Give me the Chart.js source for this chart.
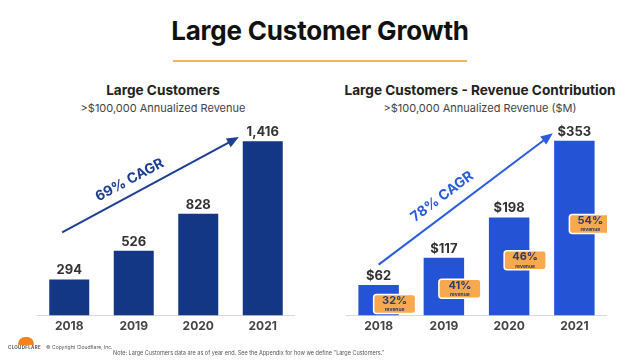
<!DOCTYPE html>
<html>
<head>
<meta charset="utf-8">
<script src="https://cdn.jsdelivr.net/npm/chart.js@4.4.1/dist/chart.umd.min.js"></script>
<style>
  body { margin: 0; width: 640px; height: 362px; background: #fff; font-family: Inter, "Noto Sans", sans-serif; position: relative; overflow: hidden; }
  .abs { position: absolute; white-space: nowrap; }
  #title { left: 0; width: 640px; top: 15px; text-align: center; font-size: 26px; font-weight: 700; color: #111; letter-spacing: -0.2px; }
  #rule { left: 173px; width: 294px; top: 60px; height: 2px; background: #f9b35a; }
  .ctitle { font-size: 13.6px; font-weight: 700; color: #222; text-align: center; }
  .csub { font-size: 11px; color: #444; text-align: center; }
  canvas { position: absolute; }
  #logo { left: 8px; top: 336px; width: 34px; height: 16px; }
  #cloud { position: absolute; left: 10px; top: 1px; width: 16px; height: 8px; background: #f6821f; border-radius: 8px 8px 1px 1px; }
  #logoText { position: absolute; left: 0; top: 9px; font-size: 4.5px; font-weight: 700; color: #555; letter-spacing: 0.3px; }
  #copy { left: 46px; top: 344px; font-size: 5px; color: #555; }
  #note { left: 113px; top: 350px; font-size: 5.5px; color: #555; }
</style>
</head>
<body>
<div class="abs" id="title">Large Customer Growth</div>
<div class="abs" id="rule"></div>

<div class="abs ctitle" style="left:63px;width:200px;top:82px">Large Customers</div>
<div class="abs csub" style="left:63px;width:200px;top:101px">&gt;$100,000 Annualized Revenue</div>
<div class="abs ctitle" style="left:330px;width:300px;top:82px">Large Customers - Revenue Contribution</div>
<div class="abs csub" style="left:330px;width:300px;top:101px">&gt;$100,000 Annualized Revenue ($M)</div>

<canvas id="c1" width="258" height="228" style="left:37px;top:110px"></canvas>
<canvas id="c2" width="261" height="228" style="left:346px;top:110px"></canvas>

<div class="abs" id="logo"><div id="cloud"></div><div id="logoText">CLOUDFLARE</div></div>
<div class="abs" id="copy">© Copyright Cloudflare, Inc.</div>
<div class="abs" id="note">Note: Large Customers data are as of year end. See the Appendix for how we define "Large Customers."</div>

<script>
const years = ['2018', '2019', '2020', '2021'];
const customers = [294, 526, 828, 1416];
const revenue = [62, 117, 198, 353];
const revenueShare = [32, 41, 46, 54];
const customersCagr = '69% CAGR';
const revenueCagr = '78% CAGR';

// arrow ends and badge anchors, in axis units
const customersArrow = { from: [-0.11, 677], to: [2.63, 1450] };
const revenueArrow = { from: [0, 103], to: [2.67, 368] };
const badgeLevel = [23.5, 54, 112, 185];

const fmtCount = v => v.toLocaleString('en-US');
const fmtMoney = v => '$' + v;

const decoPlugin = {
  id: 'deco',
  afterDatasetsDraw(chart, args, opts) {
    const { ctx, scales: { x, y } } = chart;
    const meta = chart.getDatasetMeta(0);
    ctx.save();

    // value labels
    ctx.font = '700 13px Inter';
    ctx.fillStyle = '#333';
    ctx.textAlign = 'center';
    ctx.textBaseline = 'middle';
    meta.data.forEach((bar, i) => {
      ctx.fillText(opts.fmt(chart.data.datasets[0].data[i]), bar.x, bar.y - 9);
    });

    // arrow
    const a = opts.arrow;
    const x0 = x.getPixelForValue(a.from[0]), y0 = y.getPixelForValue(a.from[1]);
    const x1 = x.getPixelForValue(a.to[0]), y1 = y.getPixelForValue(a.to[1]);
    const ang = Math.atan2(y1 - y0, x1 - x0);
    ctx.strokeStyle = opts.color;
    ctx.fillStyle = opts.color;
    ctx.lineWidth = 2;
    ctx.beginPath();
    ctx.moveTo(x0, y0);
    ctx.lineTo(x1 - 8 * Math.cos(ang), y1 - 8 * Math.sin(ang));
    ctx.stroke();
    ctx.beginPath();
    ctx.moveTo(x1, y1);
    ctx.lineTo(x1 - 12 * Math.cos(ang) + 5 * Math.sin(ang), y1 - 12 * Math.sin(ang) - 5 * Math.cos(ang));
    ctx.lineTo(x1 - 12 * Math.cos(ang) - 5 * Math.sin(ang), y1 - 12 * Math.sin(ang) + 5 * Math.cos(ang));
    ctx.closePath();
    ctx.fill();

    // CAGR text along the arrow
    const mx = x0 + (x1 - x0) * opts.textAt, my = y0 + (y1 - y0) * opts.textAt;
    ctx.translate(mx + opts.textOff * Math.sin(ang), my - opts.textOff * Math.cos(ang));
    ctx.rotate(ang);
    ctx.font = '700 14px Inter';
    ctx.fillText(opts.text, 0, 0);
    ctx.setTransform(1, 0, 0, 1, 0, 0);

    // revenue share badges
    if (opts.badges) {
      meta.data.forEach((bar, i) => {
        const cx = bar.x + 16, cy = y.getPixelForValue(badgeLevel[i]);
        const w = 42, h = 19;
        ctx.beginPath();
        ctx.roundRect(cx - w / 2, cy - h / 2, w, h, 3);
        ctx.fillStyle = '#f9a94d';
        ctx.fill();
        ctx.lineWidth = 1.5;
        ctx.strokeStyle = '#fff';
        ctx.stroke();
        ctx.fillStyle = '#2e3b6b';
        ctx.font = '700 11px Inter';
        ctx.fillText(opts.badges[i] + '%', cx, cy - 3);
        ctx.font = '700 5px Inter';
        ctx.fillText('revenue', cx, cy + 6);
      });
    }
    ctx.restore();
  }
};

function makeChart(id, values, max, color, deco) {
  return new Chart(document.getElementById(id), {
    type: 'bar',
    data: {
      labels: years,
      datasets: [{ data: values, backgroundColor: color, barPercentage: 0.62, categoryPercentage: 1 }]
    },
    options: {
      responsive: false,
      animation: false,
      layout: { padding: { top: 10 } },
      plugins: { legend: { display: false }, tooltip: { enabled: false }, deco },
      scales: {
        x: {
          grid: { display: false, drawTicks: false },
          border: { color: '#d9d9d9', width: 1 },
          ticks: { padding: 4, color: '#444', font: { family: 'Inter', size: 12, weight: '700' } }
        },
        y: { display: false, min: 0, max }
      }
    },
    plugins: [decoPlugin]
  });
}

makeChart('c1', customers, 1589, '#133785', {
  fmt: fmtCount, arrow: customersArrow, color: '#1c3f94', text: customersCagr, textAt: 0.42, textOff: 14
});
makeChart('c2', revenue, 395, '#2453d6', {
  fmt: fmtMoney, arrow: revenueArrow, color: '#2a5ce0', text: revenueCagr, textAt: 0.42, textOff: 16, badges: revenueShare
});
</script>
</body>
</html>
